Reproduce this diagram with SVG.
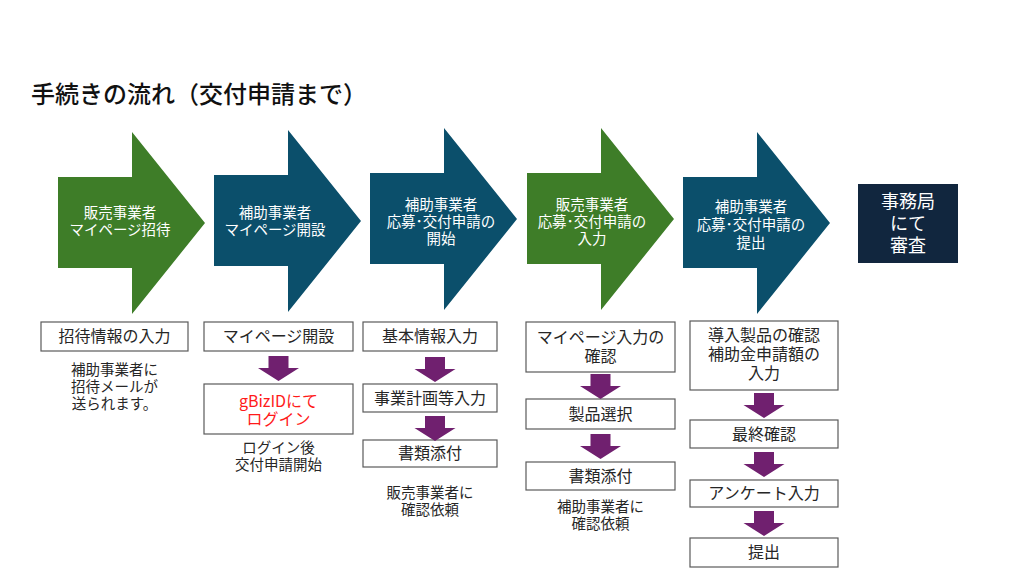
<svg xmlns="http://www.w3.org/2000/svg" width="1024" height="576" viewBox="0 0 1024 576">
<style>
text{font-family:"Noto Sans CJK JP","Noto Sans",sans-serif;text-anchor:middle}
.title{font-size:24px;font-weight:500;fill:#111;text-anchor:start}
.aw{font-size:14.5px;fill:#fff}
.bx{fill:#fff;stroke:#5a5a5a;stroke-width:1.2}
.bt{font-size:16px;fill:#262626}
.nt{font-size:14.5px;fill:#262626}
.red{fill:#ff1a1a}
.green{fill:#3e7d28}
.teal{fill:#0b4f6b}
.pa{fill:#70206f}
</style>
<defs>
<path id="bigarrow" d="M0,45 H74 V0 L147,91 L74,182 V136 H0 Z"/>
<path id="parrow" d="M10.5,0 H30.5 V12 H41 L20.5,25 L0,12 H10.5 Z"/>
</defs>
<rect width="1024" height="576" fill="#fff"/>
<text class="title" x="31" y="103">手続きの流れ（交付申請まで）</text>

<g id="step1">
<use href="#bigarrow" x="58" y="132" class="green"/>
<text class="aw" x="120" y="218">販売事業者<tspan x="120" dy="17">マイページ招待</tspan></text>
</g>
<g id="step2">
<use href="#bigarrow" x="214" y="130" class="teal"/>
<text class="aw" x="275" y="218">補助事業者<tspan x="275" dy="17">マイページ開設</tspan></text>
</g>
<g id="step3">
<use href="#bigarrow" x="370" y="128" class="teal"/>
<text class="aw" x="441" y="210">補助事業者<tspan x="441" dy="17">応募･交付申請の</tspan><tspan x="441" dy="16.5">開始</tspan></text>
</g>
<g id="step4">
<use href="#bigarrow" x="527" y="128" class="green"/>
<text class="aw" x="592" y="210">販売事業者<tspan x="592" dy="17">応募･交付申請の</tspan><tspan x="592" dy="16.5">入力</tspan></text>
</g>
<g id="step5">
<use href="#bigarrow" x="683" y="132" class="teal"/>
<text class="aw" x="751" y="212">補助事業者<tspan x="751" dy="18">応募･交付申請の</tspan><tspan x="751" dy="18">提出</tspan></text>
</g>
<g id="review">
<rect x="858" y="184" width="100" height="79" fill="#11263e"/>
<text x="908" y="208" style="font-size:18px;fill:#fff">事務局<tspan x="908" dy="22">にて</tspan><tspan x="908" dy="22">審査</tspan></text>
</g>

<g id="c1-invite-input">
<rect class="bx" x="41" y="322" width="147" height="29"/>
<text class="bt" x="114.5" y="342">招待情報の入力</text>
</g>
<g id="c1-note">
<text class="nt" x="114.5" y="375">補助事業者に<tspan x="114.5" dy="17">招待メールが</tspan><tspan x="114.5" dy="17">送られます。</tspan></text>
</g>

<g id="c2-mypage">
<rect class="bx" x="204" y="322" width="149" height="29"/>
<text class="bt" x="278.5" y="342">マイページ開設</text>
</g>
<g id="c2-gbiz">
<rect class="bx" x="204" y="384" width="149" height="50"/>
<text class="bt red" x="278.5" y="407">gBizIDにて<tspan x="278.5" dy="18">ログイン</tspan></text>
</g>
<g id="c2-note">
<text class="nt" x="278.5" y="453">ログイン後<tspan x="278.5" dy="17">交付申請開始</tspan></text>
</g>

<g id="c3-basic">
<rect class="bx" x="363" y="322" width="134" height="29"/>
<text class="bt" x="430" y="342">基本情報入力</text>
</g>
<g id="c3-plan">
<rect class="bx" x="363" y="384" width="134" height="28"/>
<text class="bt" x="430" y="404">事業計画等入力</text>
</g>
<g id="c3-docs">
<rect class="bx" x="363" y="440" width="134" height="27"/>
<text class="bt" x="430" y="459">書類添付</text>
</g>
<g id="c3-note">
<text class="nt" x="430" y="498">販売事業者に<tspan x="430" dy="17">確認依頼</tspan></text>
</g>

<g id="c4-confirm">
<rect class="bx" x="526" y="322" width="149" height="50"/>
<text class="bt" x="600.5" y="343">マイページ入力の<tspan x="600.5" dy="19">確認</tspan></text>
</g>
<g id="c4-select">
<rect class="bx" x="526" y="399" width="149" height="30"/>
<text class="bt" x="600.5" y="420">製品選択</text>
</g>
<g id="c4-docs">
<rect class="bx" x="526" y="462" width="149" height="28"/>
<text class="bt" x="600.5" y="482">書類添付</text>
</g>
<g id="c4-note">
<text class="nt" x="600.5" y="512">補助事業者に<tspan x="600.5" dy="17">確認依頼</tspan></text>
</g>

<g id="c5-input">
<rect class="bx" x="690" y="321" width="148" height="69"/>
<text class="bt" x="764" y="341">導入製品の確認<tspan x="764" dy="19">補助金申請額の</tspan><tspan x="764" dy="19">入力</tspan></text>
</g>
<g id="c5-final">
<rect class="bx" x="690" y="420" width="148" height="28"/>
<text class="bt" x="764" y="440">最終確認</text>
</g>
<g id="c5-survey">
<rect class="bx" x="690" y="480" width="148" height="27"/>
<text class="bt" x="764" y="499">アンケート入力</text>
</g>
<g id="c5-submit">
<rect class="bx" x="690" y="538" width="148" height="29"/>
<text class="bt" x="764" y="558">提出</text>
</g>

<g id="connectors" class="pa">
<use href="#parrow" x="258" y="356"/>
<use href="#parrow" x="414.5" y="357"/>
<use href="#parrow" x="414.5" y="416"/>
<use href="#parrow" x="580" y="374"/>
<use href="#parrow" x="580" y="434"/>
<use href="#parrow" x="743.5" y="393"/>
<use href="#parrow" x="743.5" y="452"/>
<use href="#parrow" x="743.5" y="511"/>
</g>
</svg>
